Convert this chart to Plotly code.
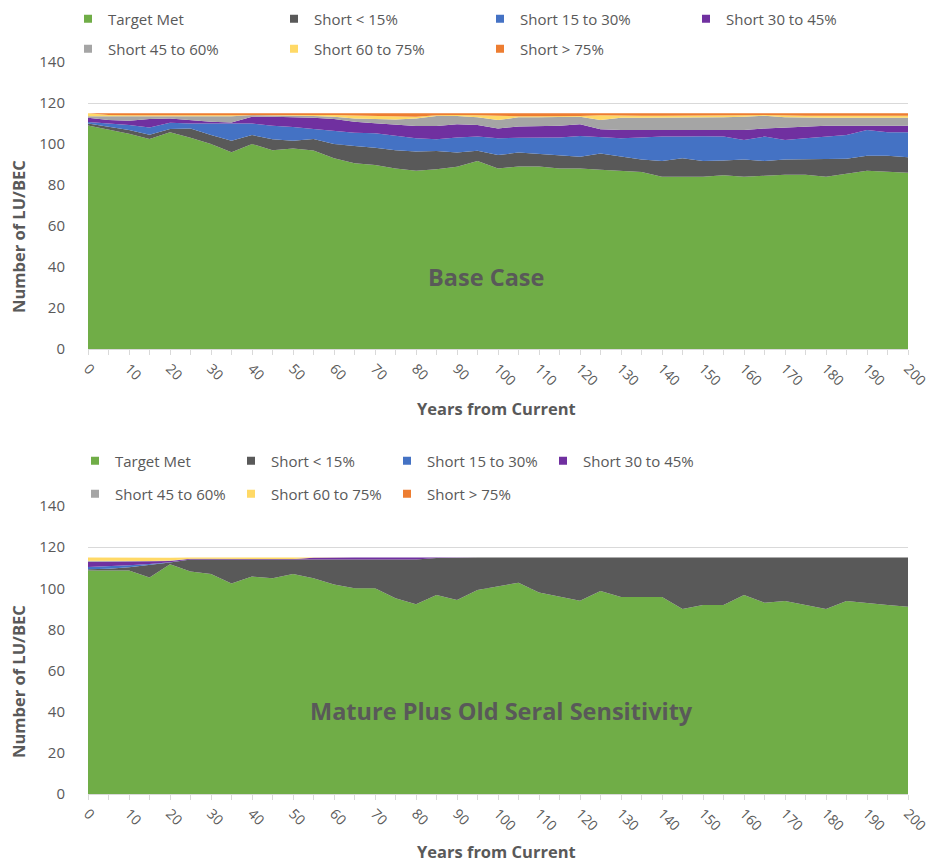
import plotly.graph_objects as go

years = list(range(0, 205, 5))

series_names = ["Target Met", "Short < 15%", "Short 15 to 30%", "Short 30 to 45%",
                "Short 45 to 60%", "Short 60 to 75%", "Short > 75%"]
colors = ["#70AD47", "#595959", "#4472C4", "#7030A0", "#A5A5A5", "#FFD966", "#ED7D31"]

# ---- Base Case (top chart) ----
base_target = [109, 107, 105, 102.5, 105.7, 103, 100, 96, 100, 97, 97.8, 96.8, 93, 90.6, 89.8,
               88.1, 87, 87.7, 88.9, 91.7, 88.1, 89, 89, 88.1, 88, 87.5, 87, 86.4, 84, 84, 84,
               84.7, 84, 84.5, 85, 85, 84, 85.5, 87, 86.5, 86]
base_lt15 = [1.0, 1.5, 1.8, 2.0, 1.6, 4.6, 4.4, 5.6, 4.4, 5.3, 3.8, 5.6, 7.0, 8.4, 8.4, 8.9, 9.3,
             8.9, 6.9, 5.0, 6.5, 6.8, 6.1, 6.2, 5.8, 7.9, 7.1, 6.1, 7.7, 9.0, 7.7, 7.2, 8.5, 7.2,
             7.5, 7.5, 8.5, 7.3, 7.3, 7.8, 7.5]
base_15_30 = [0.7, 1.5, 2.5, 3.5, 3.1, 2.4, 5.6, 8.4, 5.6, 6.6, 6.7, 4.9, 6.5, 6.5, 7.0, 6.9, 6.5,
              5.7, 7.4, 6.9, 8.2, 7.3, 8.0, 8.9, 10.1, 7.8, 8.7, 10.7, 11.9, 10.6, 12.1, 11.7, 9.5,
              11.9, 9.5, 10.3, 11.1, 11.6, 12.5, 11.4, 12.2]
base_30_45 = [2.1, 1.7, 2.1, 4.2, 2.1, 1.5, 0.8, 0.5, 3.3, 4.4, 4.9, 5.5, 5.7, 5.4, 4.9, 5.7, 6.0,
              6.5, 6.4, 5.7, 4.8, 5.4, 5.7, 5.7, 5.7, 4.0, 4.0, 3.6, 2.9, 2.9, 2.7, 3.2, 4.8, 4.0,
              6.0, 5.7, 5.3, 4.5, 2.1, 3.2, 3.2]
base_45_60 = [0.7, 1.8, 2.1, 1.3, 1.0, 2.0, 2.7, 3.0, 0.7, 0.7, 0.8, 0.9, 1.1, 1.6, 2.1, 2.4, 3.7,
              4.9, 4.1, 3.7, 4.1, 4.5, 4.2, 4.1, 3.7, 4.5, 6.0, 6.0, 6.3, 6.3, 6.3, 6.2, 6.5, 6.2,
              5.0, 4.3, 3.9, 3.9, 3.9, 3.9, 3.9]
base_60_75 = [1.5, 0.7, 0.5, 0.5, 0.5, 0.6, 0.8, 0.8, 0.3, 0.3, 0.3, 0.5, 0.8, 1.4, 1.6, 1.5, 0.8,
              0.3, 0.5, 1.0, 2.0, 0.5, 0.5, 0.5, 0.4, 2.3, 1.0, 1.0, 1.0, 1.0, 1.0, 0.9, 0.7, 0.4,
              0.9, 1.0, 1.0, 1.0, 1.0, 1.0, 1.0]
base_gt75 = [0, 0.8, 1.0, 1.0, 1.0, 0.9, 0.7, 0.7, 0.7, 0.7, 0.7, 0.8, 0.9, 1.1, 1.2, 1.5, 1.7,
             1.0, 0.8, 1.0, 1.3, 1.5, 1.5, 1.5, 1.3, 1.0, 1.2, 1.2, 1.2, 1.2, 1.2, 1.1, 1.0, 0.8,
             1.1, 1.2, 1.2, 1.2, 1.2, 1.2, 1.2]

# ---- Mature Plus Old Seral Sensitivity (bottom chart) ----
sens_target = [108.7, 108.7, 108.7, 105.2, 111.7, 108.1, 107, 102.3, 105.7, 104.9, 107, 104.9,
               101.9, 100, 100, 95.1, 92.2, 96.7, 94.3, 99.2, 101, 102.7, 98, 95.9, 94, 98.7,
               95.8, 95.8, 95.8, 89.9, 91.9, 91.9, 96.7, 93, 93.8, 91.9, 89.9, 93.8, 93, 91.9, 91]
sens_lt15 = [0.5, 0.8, 1.5, 6.0, 0.8, 5.9, 7.0, 11.7, 8.3, 9.1, 7.0, 9.1, 12.1, 14.0, 14.0, 18.9,
             21.8, 18.0, 20.7, 15.8, 14.0, 12.3, 17.0, 19.1, 21.0, 16.3, 19.2, 19.2, 19.2, 25.1,
             23.1, 23.1, 18.3, 22.0, 21.2, 23.1, 25.1, 21.2, 22.0, 23.1, 24.0]
sens_15_30 = [1.2, 1.2, 1.0, 0.6, 0.2] + [0] * 36
sens_30_45 = [2.5, 2.2, 1.8, 1.3, 0.6, 0.4, 0.3, 0.3, 0.3, 0.3, 0.2, 0.8, 1.0, 1.0, 1.0, 1.0, 1.0,
              0.3] + [0] * 23
sens_45_60 = [0.5, 0.4, 0.3, 0.2, 0.2] + [0] * 36
sens_60_75 = [1.6, 1.6, 1.6, 1.6, 1.4, 0.6, 0.7, 0.7, 0.7, 0.7, 0.8, 0.2] + [0] * 29
sens_gt75 = [0] * 41

base_series = [base_target, base_lt15, base_15_30, base_30_45, base_45_60, base_60_75, base_gt75]
sens_series = [sens_target, sens_lt15, sens_15_30, sens_30_45, sens_45_60, sens_60_75, sens_gt75]

# The page body has an 8px margin, so the figure is drawn 8px smaller and
# all reference pixel positions are shifted by that offset.
OFF = 8
W, H = 935 - OFF, 867 - OFF
FONT = "Open Sans"
GREY = "#595959"
GRID = "#D9D9D9"

fig = go.Figure()

for vals, name, col in zip(base_series, series_names, colors):
    fig.add_trace(go.Scatter(x=years, y=vals, stackgroup="top", mode="lines",
                             line=dict(width=0, color=col), fillcolor=col, name=name,
                             showlegend=False, xaxis="x", yaxis="y"))
for vals, name, col in zip(sens_series, series_names, colors):
    fig.add_trace(go.Scatter(x=years, y=vals, stackgroup="bottom", mode="lines",
                             line=dict(width=0, color=col), fillcolor=col, name=name,
                             showlegend=False, xaxis="x2", yaxis="y2"))

# legend entries (square markers like the original)
legend_ids_top = ["legend"] * 4 + ["legend2"] * 3
legend_ids_bot = ["legend3"] * 4 + ["legend4"] * 3
for name, col, lg in zip(series_names, colors, legend_ids_top):
    fig.add_trace(go.Scatter(x=[None], y=[None], mode="markers", name=name,
                             marker=dict(symbol="square", size=8, color=col),
                             legend=lg, xaxis="x", yaxis="y"))
for name, col, lg in zip(series_names, colors, legend_ids_bot):
    fig.add_trace(go.Scatter(x=[None], y=[None], mode="markers", name=name,
                             marker=dict(symbol="square", size=8, color=col),
                             legend=lg, xaxis="x2", yaxis="y2"))


def px_x(v):
    return (v - OFF) / W


def px_y(v):
    return 1 - (v - OFF) / H


xdom = [px_x(88), px_x(908)]
xcommon = dict(range=[0, 200], tick0=0, dtick=10, tickangle=45, ticks="outside", ticklen=5,
               tickcolor=GRID, showline=True, linecolor=GRID, linewidth=1, showgrid=False,
               zeroline=False, tickfont=dict(family=FONT, size=14, color=GREY),
               minor=dict(dtick=5, ticks="outside", ticklen=5, tickcolor=GRID),
               domain=xdom, automargin=False)
ycommon = dict(range=[0, 140], dtick=20, showgrid=True, gridcolor=GRID, gridwidth=1,
               showline=False, zeroline=False, ticks="", ticklabelstandoff=22,
               tickfont=dict(family=FONT, size=15, color=GREY), automargin=False)

leg_common = dict(orientation="h", xanchor="left", yanchor="middle", bgcolor="rgba(0,0,0,0)",
                  font=dict(family=FONT, size=15, color=GREY), entrywidthmode="pixels",
                  traceorder="normal", itemclick=False, itemdoubleclick=False)

fig.update_layout(
    width=W, height=H, margin=dict(l=0, r=0, t=0, b=0, autoexpand=False),
    paper_bgcolor="white", plot_bgcolor="white",
    showlegend=True,
    xaxis=dict(**xcommon, anchor="y"),
    yaxis=dict(**ycommon, domain=[px_y(349), px_y(62)], anchor="x"),
    xaxis2=dict(**xcommon, anchor="y2"),
    yaxis2=dict(**ycommon, domain=[px_y(794), px_y(506)], anchor="x2"),
    legend=dict(**leg_common, x=px_x(68), y=px_y(19), entrywidth=161),
    legend2=dict(**leg_common, x=px_x(68), y=px_y(49), entrywidth=161),
    legend3=dict(**leg_common, x=px_x(75), y=px_y(461), entrywidth=111),
    legend4=dict(**leg_common, x=px_x(75), y=px_y(494), entrywidth=111),
)

ann = []
title_font = dict(family=FONT, size=16.5, color=GREY)
for yc in (237, 682):
    ann.append(dict(text="<b>Number of LU/BEC</b>", x=px_x(18), y=px_y(yc), xref="paper",
                    yref="paper", showarrow=False, textangle=-90, font=title_font,
                    xanchor="center", yanchor="middle"))
for yc in (408, 851):
    ann.append(dict(text="<b>Years from Current</b>", x=px_x(496), y=px_y(yc), xref="paper",
                    yref="paper", showarrow=False, font=title_font,
                    xanchor="center", yanchor="middle"))
ann.append(dict(text="<b>Base Case</b>", x=px_x(486), y=px_y(277), xref="paper", yref="paper",
                showarrow=False, font=dict(family=FONT, size=23.5, color=GREY),
                xanchor="center", yanchor="middle"))
ann.append(dict(text="<b>Mature Plus Old Seral Sensitivity</b>", x=px_x(501), y=px_y(711),
                xref="paper", yref="paper", showarrow=False,
                font=dict(family=FONT, size=23.5, color=GREY),
                xanchor="center", yanchor="middle"))
fig.update_layout(annotations=ann)

fig.write_html("out.html")
